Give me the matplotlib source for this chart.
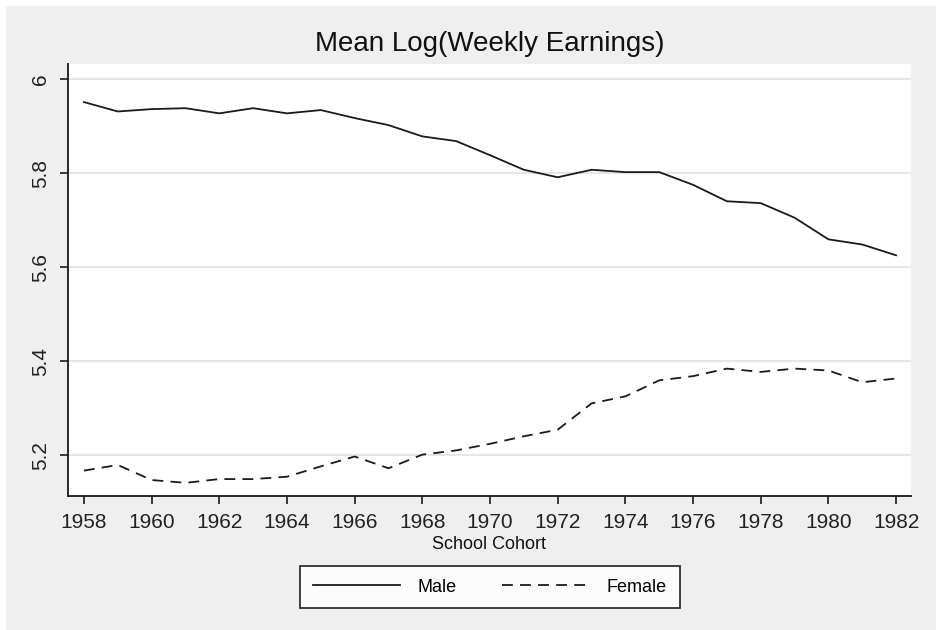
import numpy as np
import matplotlib
matplotlib.use('Agg')
import matplotlib.pyplot as plt
from matplotlib.patches import Rectangle

plt.rcParams['font.family'] = ['Liberation Sans', 'DejaVu Sans']

# data
years = list(range(1958, 1983))
male = [5.951, 5.931, 5.936, 5.938, 5.927, 5.938, 5.927, 5.934, 5.917, 5.902,
        5.878, 5.868, 5.838, 5.807, 5.791, 5.807, 5.802, 5.802, 5.775, 5.740,
        5.736, 5.705, 5.659, 5.648, 5.625]
female = [5.167, 5.179, 5.147, 5.141, 5.149, 5.149, 5.154, 5.176, 5.197, 5.172,
          5.201, 5.210, 5.224, 5.240, 5.254, 5.310, 5.325, 5.359, 5.368, 5.384,
          5.377, 5.384, 5.380, 5.355, 5.363]
xticks = list(range(1958, 1983, 2))
yticks = [5.2, 5.4, 5.6, 5.8, 6.0]
ytick_labels = ['5.2', '5.4', '5.6', '5.8', '6']

W, H = 937, 630
fig = plt.figure(figsize=(W / 100, H / 100), dpi=100)
fig.patch.set_facecolor('white')
fig.patches.append(Rectangle((6 / W, 0), 1, 1 - 6 / H, transform=fig.transFigure,
                             facecolor='#efefef', edgecolor='none', zorder=-10))

ax = fig.add_axes([68 / W, 1 - 496 / H, (911 - 68) / W, (496 - 64) / H])
ax.set_facecolor('white')

ax.plot(years, male, color='#1a1a1a', lw=1.3, label='Male')
ax.plot(years, female, color='#1a1a1a', lw=1.3, dashes=(6, 4), label='Female')

ax.set_xlim(1957.53, 1982.44)
ax.set_ylim(5.113, 6.032)
ax.set_xticks(xticks)
ax.set_yticks(yticks)
ax.set_yticklabels(ytick_labels, rotation=90, va='center')
ax.tick_params(axis='both', direction='out', length=6, width=1.2, labelsize=15,
               color='#1a1a1a', labelcolor='#222222')
ax.tick_params(axis='y', pad=7)
ax.tick_params(axis='x', pad=6)
ax.grid(axis='y', color='#e6e6e6', lw=1.5)
ax.set_axisbelow(True)

for side in ['top', 'right']:
    ax.spines[side].set_visible(False)
for side in ['left', 'bottom']:
    ax.spines[side].set_linewidth(1.3)
    ax.spines[side].set_color('#1a1a1a')

fig.text(490 / W, 1 - 44 / H, 'Mean Log(Weekly Earnings)', fontsize=20,
         ha='center', va='center', color='#111111')
ax.set_xlabel('School Cohort', fontsize=13, labelpad=3, color='#111111')

leg = ax.legend(loc='center', bbox_to_anchor=(490 / W, 1 - 587 / H),
                bbox_transform=fig.transFigure, ncol=2, fontsize=13,
                frameon=True, fancybox=False, handlelength=4.8,
                columnspacing=2.5, handletextpad=1.0, borderpad=0.7)
leg.get_frame().set_edgecolor('black')
leg.get_frame().set_linewidth(1.3)

fig.savefig('out.png', dpi=100)
